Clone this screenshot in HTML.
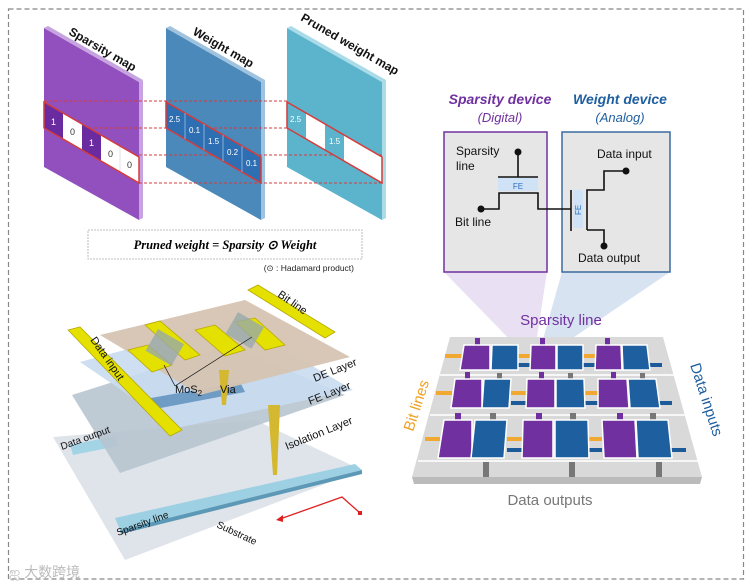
<!DOCTYPE html>
<html><head><meta charset="utf-8"><style>
html,body{margin:0;padding:0;background:#fff;}
svg{display:block;font-family:"Liberation Sans",Arial,sans-serif;}
</style></head><body>
<svg width="753" height="587" viewBox="0 0 753 587" xmlns="http://www.w3.org/2000/svg">
<rect x="8.5" y="9" width="735" height="570" fill="none" stroke="#888" stroke-width="1.2" stroke-dasharray="5,3"/>

<!-- maps -->
<g>
<polygon points="44,28 139,82 139,220 44,167" fill="#9150be"/>
<polygon points="139,82 143,80 143,218 139,220" fill="#c7a3e0"/>
<polygon points="44,28 48,26 143,80 139,82" fill="#c7a3e0"/>
<polygon points="166,28 261,82 261,220 166,167" fill="#4a89b9"/>
<polygon points="261,82 265,80 265,218 261,220" fill="#9fc3de"/>
<polygon points="166,28 170,26 265,80 261,82" fill="#9fc3de"/>
<polygon points="287,28 382,82 382,220 287,167" fill="#5cb4cc"/>
<polygon points="382,82 386,80 386,218 382,220" fill="#a9dbe8"/>
<polygon points="287,28 291,26 386,80 382,82" fill="#a9dbe8"/>
</g>
<g stroke="#d43c3c" stroke-width="1" stroke-dasharray="3,2" fill="none">
<line x1="44" y1="101" x2="287" y2="101"/><line x1="44" y1="128" x2="287" y2="128"/>
<line x1="139" y1="155" x2="382" y2="155"/><line x1="139" y1="183" x2="382" y2="183"/>
</g>
<polygon points="44,102 63,113 63,139 44,128" fill="#6a2aa0"/>
<polygon points="63,113 82,124 82,150 63,139" fill="#fff"/>
<polygon points="82,124 101,135 101,161 82,150" fill="#6a2aa0"/>
<polygon points="101,135 120,146 120,172 101,161" fill="#fff"/>
<polygon points="120,146 139,157 139,183 120,172" fill="#fff"/>
<g stroke="#ccc" stroke-width="0.6"><line x1="120" y1="146" x2="120" y2="172"/></g>
<polygon points="44,102 139,157 139,183 44,128" fill="none" stroke="#d43c3c" stroke-width="1.5"/>
<g font-size="9" fill="#333"><text x="51" y="125" fill="#fff">1</text><text x="70" y="135">0</text><text x="89" y="146" fill="#fff">1</text><text x="108" y="157">0</text><text x="127" y="168">0</text></g>
<polygon points="166,102 261,157 261,183 166,128" fill="#2e6fb3" stroke="#d43c3c" stroke-width="1.5"/>
<g stroke="#9cc0e0" stroke-width="0.8"><line x1="185" y1="113" x2="185" y2="139"/><line x1="204" y1="124" x2="204" y2="150"/><line x1="223" y1="135" x2="223" y2="161"/><line x1="242" y1="146" x2="242" y2="172"/></g>
<g font-size="8" fill="#fff"><text x="169" y="122">2.5</text><text x="189" y="133">0.1</text><text x="208" y="144">1.5</text><text x="227" y="155">0.2</text><text x="246" y="166">0.1</text></g>
<polygon points="287,102 382,157 382,183 287,128" fill="#fff"/>
<polygon points="287,102 306,113 306,139 287,128" fill="#5cb4cc"/>
<polygon points="325,124 344,135 344,161 325,150" fill="#5cb4cc"/>
<polygon points="287,102 382,157 382,183 287,128" fill="none" stroke="#d43c3c" stroke-width="1.5"/>
<g font-size="8" fill="#fff"><text x="290" y="122">2.5</text><text x="329" y="144">1.5</text></g>
<g font-weight="bold" font-size="12" fill="#111">
<text transform="translate(68,34) rotate(30)">Sparsity map</text>
<text transform="translate(192,34) rotate(30)">Weight map</text>
<text transform="translate(300,20) rotate(30)">Pruned weight map</text>
</g>
<rect x="88" y="230" width="274" height="29" fill="none" stroke="#aaa" stroke-width="0.8" stroke-dasharray="2,1"/>
<text x="225" y="249" text-anchor="middle" font-family="'Liberation Serif',serif" font-style="italic" font-weight="bold" font-size="12.5">Pruned weight  =  Sparsity ⊙ Weight</text>
<text x="354" y="271" text-anchor="end" font-size="8.5" fill="#222">(⊙ : Hadamard product)</text>

<polygon points="444,272 547,272 535,350 520,350" fill="#b79ad6" opacity="0.3"/>
<polygon points="562,272 670,272 555,350 540,350" fill="#8fb0d6" opacity="0.35"/>
<text x="500" y="104" text-anchor="middle" font-weight="bold" font-style="italic" font-size="14" fill="#7030a0">Sparsity device</text>
<text x="500" y="122" text-anchor="middle" font-style="italic" font-size="13" fill="#7030a0">(Digital)</text>
<text x="620" y="104" text-anchor="middle" font-weight="bold" font-style="italic" font-size="14" fill="#1f5f9f">Weight device</text>
<text x="620" y="122" text-anchor="middle" font-style="italic" font-size="13" fill="#1f5f9f">(Analog)</text>
<rect x="444" y="132" width="103" height="140" fill="#e6e6e6" stroke="#7030a0" stroke-width="1.5"/>
<rect x="562" y="132" width="108" height="140" fill="#e6e6e6" stroke="#3a6a9f" stroke-width="1.5"/>
<rect x="498" y="178" width="40" height="13" fill="#cfe2f6"/>
<text x="518" y="189" text-anchor="middle" font-size="8" fill="#2a70c0">FE</text>
<rect x="573" y="190" width="10" height="38" fill="#cfe2f6"/>
<text transform="translate(581,215) rotate(-90)" font-size="8" fill="#2a70c0">FE</text>
<g stroke="#111" stroke-width="1.6" fill="none">
<line x1="518" y1="152" x2="518" y2="177"/><line x1="498" y1="177" x2="538" y2="177"/>
<polyline points="481,209 499,209 499,193 538,193 538,209 571,209"/>
<line x1="571" y1="190" x2="571" y2="231"/>
<polyline points="587,230 587,190 604,190 604,171 626,171"/>
<polyline points="587,230 604,230 604,246"/>
</g>
<g fill="#111"><circle cx="518" cy="152" r="3.5"/><circle cx="481" cy="209" r="3.5"/><circle cx="626" cy="171" r="3.5"/><circle cx="604" cy="246" r="3.5"/></g>
<g font-size="12" fill="#111">
<text x="456" y="155">Sparsity</text><text x="456" y="170">line</text><text x="455" y="226">Bit line</text>
<text x="597" y="158">Data input</text><text x="578" y="262">Data output</text>
</g>

<polygon points="412,477 702,477 700,484 414,484" fill="#bbb"/>
<polygon points="450,337 663,337 702,477 412,477" fill="#d9d9d9"/>
<g stroke="#fff" stroke-width="2" opacity="0.8">
<line x1="440" y1="375" x2="676" y2="375"/><line x1="430" y1="415" x2="688" y2="415"/><line x1="418" y1="461" x2="698" y2="461"/>
</g>
<g fill="#f0a830">
<rect x="445" y="354" width="17" height="4"/><rect x="518" y="354" width="12" height="4"/><rect x="583" y="354" width="12" height="4"/>
<rect x="436" y="391" width="16" height="4"/><rect x="511" y="391" width="15" height="4"/><rect x="584" y="391" width="14" height="4"/>
<rect x="425" y="437" width="15" height="4"/><rect x="507" y="437" width="15" height="4"/><rect x="588" y="437" width="14" height="4"/>
</g>
<g fill="#1c5a99">
<rect x="518" y="363" width="12" height="4"/><rect x="583" y="363" width="12" height="4"/><rect x="648" y="363" width="14" height="4"/>
<rect x="511" y="401" width="15" height="4"/><rect x="584" y="401" width="14" height="4"/><rect x="657" y="401" width="15" height="4"/>
<rect x="507" y="448" width="15" height="4"/><rect x="588" y="448" width="14" height="4"/><rect x="670" y="448" width="16" height="4"/>
</g>
<g fill="#7030a0">
<rect x="475" y="338" width="5" height="8"/><rect x="540" y="338" width="5" height="8"/><rect x="605" y="338" width="5" height="8"/>
<rect x="465" y="372" width="5" height="7"/><rect x="539" y="372" width="5" height="7"/><rect x="611" y="372" width="5" height="7"/>
<rect x="455" y="413" width="6" height="7"/><rect x="536" y="413" width="6" height="7"/><rect x="617" y="413" width="6" height="7"/>
</g>
<g fill="#777">
<rect x="497" y="373" width="5" height="6"/><rect x="568" y="373" width="5" height="6"/><rect x="640" y="373" width="5" height="6"/>
<rect x="490" y="413" width="6" height="7"/><rect x="570" y="413" width="6" height="7"/><rect x="650" y="413" width="6" height="7"/>
<rect x="483" y="462" width="6" height="15"/><rect x="569" y="462" width="6" height="15"/><rect x="656" y="462" width="6" height="15"/>
</g>
<g stroke="#fff" stroke-width="1.5">
<g fill="#7030a0">
<polygon points="464,345 490,345 490,370 460,370"/><polygon points="531,345 556,345 556,370 530,370"/><polygon points="596,345 621,345 622,370 595,370"/>
<polygon points="455,379 482,379 482,408 451,408"/><polygon points="527,379 555,379 555,408 526,408"/><polygon points="598,379 627,379 629,408 598,408"/>
<polygon points="444,420 472,420 472,458 438,458"/><polygon points="523,420 553,420 553,458 522,458"/><polygon points="602,420 635,420 637,458 604,458"/>
</g>
<g fill="#1d5f9f">
<polygon points="492,345 518,345 518,370 491,370"/><polygon points="557,345 583,345 583,370 557,370"/><polygon points="622,345 647,345 650,370 623,370"/>
<polygon points="484,379 511,379 509,408 482,408"/><polygon points="556,379 584,379 585,408 556,408"/><polygon points="628,379 656,379 660,408 630,408"/>
<polygon points="475,420 507,420 504,458 471,458"/><polygon points="555,420 588,420 589,458 555,458"/><polygon points="636,420 668,420 672,458 638,458"/>
</g>
</g>
<text x="561" y="325" text-anchor="middle" font-size="15" fill="#7030a0">Sparsity line</text>
<text x="550" y="505" text-anchor="middle" font-size="15" fill="#777">Data outputs</text>
<text transform="translate(413,432) rotate(-72)" font-size="15" fill="#f0a020">Bit lines</text>
<text transform="translate(690,365) rotate(72)" font-size="15" fill="#1f5f9f">Data inputs</text>

<polygon points="53,437 255,420 362,470 125,560" fill="#dfe4ea"/>
<polygon points="115,518 355,464 362,470 120,530" fill="#9ed0e4"/>
<polygon points="120,530 362,470 362,474 121,534" fill="#5d99b6"/>
<polygon points="70,445 115,436 118,446 73,455" fill="#a3d4e6"/>
<polygon points="72,395 230,345 345,395 120,473" fill="#b7c4cf" opacity="0.9"/>
<polygon points="80,362 235,320 353,390 177,428" fill="#c9dcef" opacity="0.9"/>
<polygon points="140,400 240,382 245,392 150,410" fill="#6e9cc4"/>
<polygon points="100,335 245,300 350,357 200,395" fill="#d6c4b2" opacity="0.95"/>
<polygon points="219,370 229,370 226,405 222,405" fill="#d4b830"/>
<polygon points="268,405 280,405 277,475 273,475" fill="#d4b830"/>
<g fill="#e4e000" stroke="#b8a800" stroke-width="0.8">
<polygon points="68,330 80,327 182,430 170,436"/>
<polygon points="248,290 258,285 335,332 325,338"/>
<polygon points="128,350 148,345 172,365 152,372"/>
<polygon points="145,325 160,321 200,355 185,360"/>
<polygon points="195,330 215,325 245,350 225,356"/>
<polygon points="235,322 255,318 285,345 265,350"/>
</g>
<g fill="#9aa" opacity="0.8">
<rect x="150" y="335" width="30" height="25" transform="rotate(30 165 347)"/>
<rect x="230" y="318" width="30" height="25" transform="rotate(30 245 330)"/>
</g>
<g stroke="#111" stroke-width="0.7"><line x1="175" y1="386" x2="164" y2="365"/><line x1="175" y1="386" x2="252" y2="337"/></g>
<g font-size="11" fill="#111">
<text transform="translate(277,296) rotate(35)">Bit line</text>
<text transform="translate(90,340) rotate(55)">Data input</text>
<text x="175" y="393">MoS<tspan font-size="8" dy="3">2</tspan></text>
<text x="220" y="393">Via</text>
<text transform="translate(315,382) rotate(-22)">DE Layer</text>
<text transform="translate(310,405) rotate(-22)">FE Layer</text>
<text transform="translate(287,450) rotate(-22)">Isolation Layer</text>
<text transform="translate(62,450) rotate(-20)" font-size="10">Data output</text>
<text transform="translate(118,536) rotate(-20)" font-size="10">Sparsity line</text>
<text transform="translate(216,527) rotate(25)" font-size="10">Substrate</text>
</g>
<polyline points="360,513 342,497 280,519" fill="none" stroke="#e02020" stroke-width="1.3"/>
<polygon points="276,520 283,515 283,522" fill="#e02020"/>
<rect x="358" y="511" width="4" height="4" fill="#e02020"/>
<text x="9" y="577" font-size="14" fill="#bbb" font-family="'Liberation Sans','Noto Sans CJK SC',sans-serif">ஐ 大数跨境</text>
</svg>
</body></html>
